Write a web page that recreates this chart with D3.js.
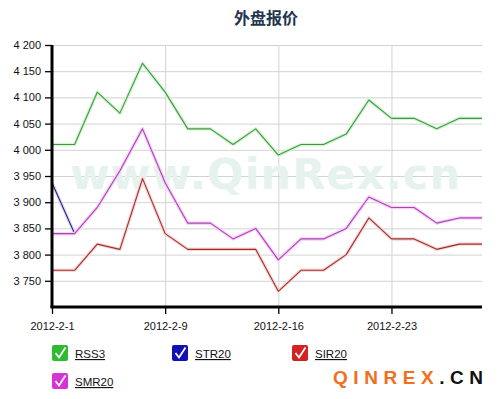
<!DOCTYPE html>
<html>
<head>
<meta charset="utf-8">
<script src="https://cdn.jsdelivr.net/npm/d3@7"></script>
<style>
  body { margin: 0; background: #fff; }
  svg { display: block; font-family: Arial, "Liberation Sans", sans-serif; }
</style>
</head>
<body>
<div id="chart"></div>
<script>
// trading days shown on the x axis
const dates = ["2012-2-1", "2012-2-2", "2012-2-3", "2012-2-6", "2012-2-7",
  "2012-2-9", "2012-2-10", "2012-2-13", "2012-2-14", "2012-2-15",
  "2012-2-16", "2012-2-17", "2012-2-20", "2012-2-21", "2012-2-22",
  "2012-2-23", "2012-2-24", "2012-2-27", "2012-2-28", "2012-2-29"];
const tickDates = ["2012-2-1", "2012-2-9", "2012-2-16", "2012-2-23"];
const yTicks = [3750, 3800, 3850, 3900, 3950, 4000, 4050, 4100, 4150, 4200];

const rss3 = [4010, 4010, 4110, 4070, 4165, 4110, 4040, 4040, 4010, 4040,
  3990, 4010, 4010, 4030, 4095, 4060, 4060, 4040, 4060, 4060];
const str20 = [3937, 3840, null, null, null, null, null, null, null, null,
  null, null, null, null, null, null, null, null, null, null];
const sir20 = [3770, 3770, 3820, 3810, 3945, 3840, 3810, 3810, 3810, 3810,
  3730, 3770, 3770, 3800, 3870, 3830, 3830, 3810, 3820, 3820];
const smr20 = [3840, 3840, 3890, 3960, 4040, 3937, 3860, 3860, 3830, 3850,
  3790, 3830, 3830, 3850, 3910, 3890, 3890, 3860, 3870, 3870];

const series = [
  { name: "RSS3", values: rss3, line: "#3f9a3f", halo: "#d4f4d4", box: "#2fbb2f" },
  { name: "STR20", values: str20, line: "#1c1c7c", halo: "#dcdcf4", box: "#1212b4" },
  { name: "SIR20", values: sir20, line: "#9a3030", halo: "#f8d6d6", box: "#d42222" },
  { name: "SMR20", values: smr20, line: "#a844b8", halo: "#f8d0f8", box: "#d634d6" }
];

const width = 502, height = 399;
const plotLeft = 52, plotRight = 482, plotTop = 45, plotBottom = 307;

const svg = d3.select("#chart").append("svg")
  .attr("width", width)
  .attr("height", height);

const x = d3.scalePoint().domain(dates).range([plotLeft, plotRight]);
const y = d3.scaleLinear().domain([3700, 4200]).range([plotBottom, plotTop]);

// title
svg.append("text")
  .attr("x", 266).attr("y", 24)
  .attr("text-anchor", "middle")
  .style("font-family", "'Noto Sans CJK SC', sans-serif")
  .style("font-weight", "bold")
  .style("font-size", "16px")
  .style("fill", "#1f3550")
  .text("外盘报价");

// grid
svg.append("g").selectAll("line")
  .data(yTicks)
  .enter().append("line")
  .attr("x1", plotLeft).attr("x2", plotRight)
  .attr("y1", d => y(d) + 0.5).attr("y2", d => y(d) + 0.5)
  .attr("stroke", "#d2d2d2");

svg.append("g").selectAll("line")
  .data(tickDates.slice(1))
  .enter().append("line")
  .attr("x1", d => x(d) + 0.5).attr("x2", d => x(d) + 0.5)
  .attr("y1", plotTop).attr("y2", plotBottom)
  .attr("stroke", "#d2d2d2");

// watermark
svg.append("text")
  .attr("x", 70).attr("y", 189)
  .attr("textLength", 390)
  .attr("lengthAdjust", "spacing")
  .style("font-family", "'DejaVu Sans', sans-serif")
  .style("font-weight", "bold")
  .style("font-size", "43px")
  .style("fill", "#e6f2ee")
  .text("www.QinRex.cn");

// lines
const line = d3.line()
  .defined(d => d != null)
  .x((d, i) => x(dates[i]))
  .y(d => y(d));

series.forEach(s => {
  svg.append("path")
    .attr("d", line(s.values))
    .attr("fill", "none")
    .attr("stroke", s.halo)
    .attr("stroke-width", 3.5)
    .attr("stroke-linejoin", "round");
  svg.append("path")
    .attr("d", line(s.values))
    .attr("fill", "none")
    .attr("stroke", s.line)
    .attr("stroke-width", 1.1)
    .attr("stroke-linejoin", "round");
});

// axes
const yAxis = d3.axisLeft(y)
  .tickValues(yTicks)
  .tickSize(7)
  .tickPadding(4)
  .tickFormat(d => d3.format(",")(d).replace(",", " "));

const gy = svg.append("g")
  .attr("transform", "translate(" + plotLeft + ",0)")
  .call(yAxis);
gy.select(".domain").remove();
gy.append("line")
  .attr("x1", 0).attr("x2", 0)
  .attr("y1", plotTop).attr("y2", plotBottom + 1)
  .attr("stroke", "#000").attr("stroke-width", 3);
gy.selectAll(".tick line").attr("stroke", "#000").attr("stroke-width", 1.3);
gy.selectAll(".tick text")
  .style("font-size", "11px")
  .style("fill", "#111");

const xAxis = d3.axisBottom(x)
  .tickValues(tickDates)
  .tickSize(7)
  .tickPadding(8);

const gx = svg.append("g")
  .attr("transform", "translate(0," + plotBottom + ")")
  .call(xAxis);
gx.select(".domain").remove();
gx.append("line")
  .attr("x1", plotLeft - 1.5).attr("x2", plotRight)
  .attr("y1", 0).attr("y2", 0)
  .attr("stroke", "#000").attr("stroke-width", 3);
gx.selectAll(".tick line").attr("stroke", "#000").attr("stroke-width", 1.3);
gx.selectAll(".tick text")
  .style("font-size", "11px")
  .style("fill", "#111");

// legend
const legendPos = [[52, 345], [172, 345], [292, 345], [52, 373]];
const legend = svg.append("g").selectAll("g")
  .data(series)
  .enter().append("g")
  .attr("transform", (d, i) => "translate(" + legendPos[i][0] + "," + legendPos[i][1] + ")");

legend.append("rect")
  .attr("width", 16).attr("height", 16)
  .attr("rx", 2)
  .attr("fill", d => d.box);
legend.append("path")
  .attr("d", "M3.5,8 L7,12.5 L13.5,2.5")
  .attr("fill", "none")
  .attr("stroke", "#fff")
  .attr("stroke-width", 1.8);
legend.append("text")
  .attr("x", 23).attr("y", 13)
  .style("font-size", "11.5px")
  .style("text-decoration", "underline")
  .style("fill", "#111")
  .text(d => d.name);

// logo
const logo = svg.append("text")
  .attr("x", 333).attr("y", 384)
  .attr("textLength", 150)
  .attr("lengthAdjust", "spacing")
  .style("font-weight", "bold")
  .style("font-size", "19px");
logo.append("tspan").style("fill", "#f07020").text("QINREX");
logo.append("tspan").style("fill", "#111").text(".CN");
</script>
</body>
</html>
